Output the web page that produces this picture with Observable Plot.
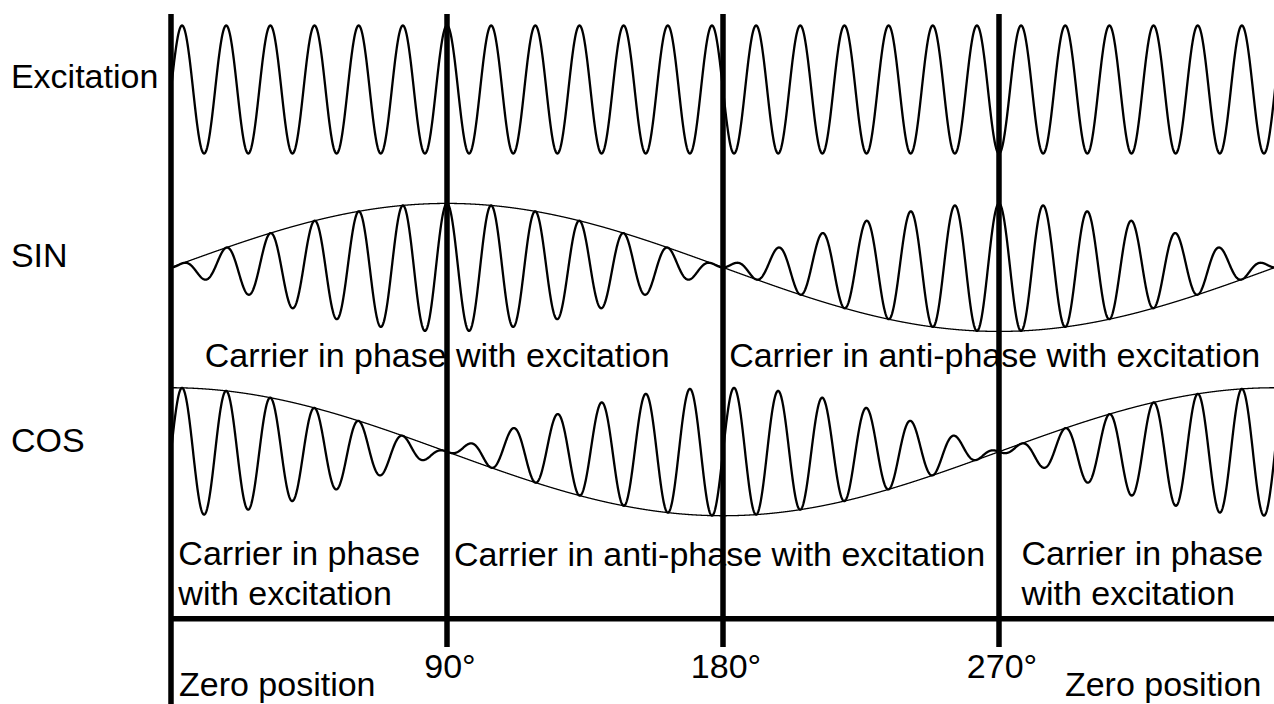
<!DOCTYPE html>
<html>
<head>
<meta charset="utf-8">
<script src="https://cdn.jsdelivr.net/npm/d3@7"></script>
<script src="https://cdn.jsdelivr.net/npm/@observablehq/plot@0.6"></script>
<style>
  html, body { margin: 0; padding: 0; background: #fff; }
  #chart svg { display: block; }
</style>
</head>
<body>
<div id="chart"></div>
<script>
// ---- data ----
const rowNames = ["Excitation", "SIN", "COS"];
const rowLevels = [0, -2.78, -5.66];          // centre line of each trace (amplitude units)
const rowEnvelopes = ["none", "sin", "cos"];   // modulation of the carrier
const carrierCycles = 25;                      // carrier cycles per 360° of rotation
const phaseMarks = [0, 90, 180, 270];
const phaseTickLabels = ["90°", "180°", "270°"];
const phaseTickValues = [90, 180, 270];
const zeroLabels = ["Zero position", "Zero position"];
const zeroLabelX = [2.6, 291.5];
const sinCaptions = ["Carrier in phase with excitation", "Carrier in anti-phase with excitation"];
const sinCaptionX = [11, 182];
const cosCaptions = ["Carrier in phase\nwith excitation", "Carrier in anti-phase with excitation", "Carrier in phase\nwith excitation"];
const cosCaptionX = [2.4, 92.3, 277.3];
const cosCaptionLevels = [-8.05, -7.44, -8.05];

// ---- layout levels (amplitude units) ----
const topLevel = 1.390625, bottomLevel = -9.609375;
const ruleTop = 1.17, ruleBottomMain = -8.72, ruleBottomZero = bottomLevel;
const axisLevel = -8.27;
const sinCaptionLevel = -4.34;
const tickLabelLevel = -9.19;
const zeroLabelLevel = -9.47;
const rowLabelX = -52.2;

// ---- build traces ----
const step = 0.1;
const traces = [];
const envelopes = [];
rowNames.forEach((name, r) => {
  for (let a = 0; a <= 360.5; a += step) {
    const rad = a * Math.PI / 180;
    const env = rowEnvelopes[r] === "sin" ? Math.sin(rad) : rowEnvelopes[r] === "cos" ? Math.cos(rad) : 1;
    traces.push({row: name, angle: a, value: rowLevels[r] + env * Math.sin(carrierCycles * rad)});
    if (rowEnvelopes[r] !== "none") envelopes.push({row: name, angle: a, value: rowLevels[r] + env});
  }
});

const font = "Liberation Sans, Arial, Helvetica, sans-serif";
const fs = 34;

const chart = Plot.plot({
  width: 1274,
  height: 704,
  margin: 0,
  style: {background: "#fff", fontFamily: font},
  x: {domain: [0, 360], range: [170.5, 1274.5], axis: null},
  y: {domain: [topLevel, bottomLevel], range: [0, 704], axis: null},
  marks: [
    Plot.line(envelopes, {x: "angle", y: "value", z: "row", stroke: "#000", strokeWidth: 1.3}),
    Plot.line(traces, {x: "angle", y: "value", z: "row", stroke: "#000", strokeWidth: 2.3}),
    Plot.ruleX(phaseMarks, {x: d => d, y1: ruleTop, y2: d => d === 0 ? ruleBottomZero : ruleBottomMain, stroke: "#000", strokeWidth: 5.5}),
    Plot.ruleY([axisLevel], {x1: 0, x2: 360, stroke: "#000", strokeWidth: 5.5}),
    Plot.text(rowNames, {x: rowLabelX, y: (d, i) => rowLevels[i] + (i === 0 ? 0.03 : 0), text: d => d, textAnchor: "start", lineAnchor: "bottom", fontSize: fs, fill: "#000"}),
    Plot.text(sinCaptions, {x: (d, i) => sinCaptionX[i], y: sinCaptionLevel, text: d => d, textAnchor: "start", lineAnchor: "bottom", fontSize: fs, fill: "#000"}),
    Plot.text(cosCaptions, {x: (d, i) => cosCaptionX[i], y: (d, i) => cosCaptionLevels[i], text: d => d, textAnchor: "start", lineAnchor: "bottom", lineHeight: 40 / 34, fontSize: fs, fill: "#000"}),
    Plot.text(phaseTickLabels, {x: (d, i) => phaseTickValues[i], y: tickLabelLevel, text: d => d, textAnchor: "middle", lineAnchor: "bottom", dx: 3, fontSize: fs, fill: "#000"}),
    Plot.text(zeroLabels, {x: (d, i) => zeroLabelX[i], y: zeroLabelLevel, text: d => d, textAnchor: "start", lineAnchor: "bottom", fontSize: fs, fill: "#000"})
  ]
});
document.getElementById("chart").appendChild(chart);
</script>
</body>
</html>
